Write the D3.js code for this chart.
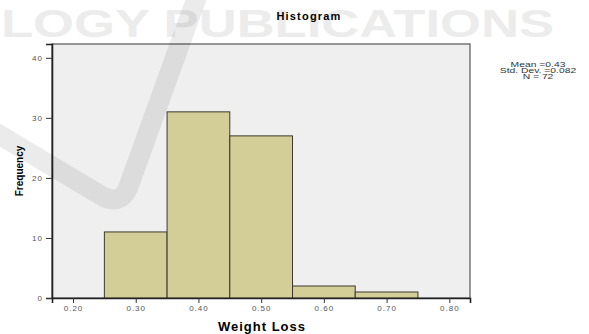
<!DOCTYPE html>
<html>
<head>
<meta charset="utf-8">
<script src="https://cdn.jsdelivr.net/npm/d3@7"></script>
<style>
  body { margin: 0; background: #fff; }
  text { font-family: "Liberation Sans", Arial, sans-serif; }
</style>
</head>
<body>
<svg id="chart"></svg>
<script>
// histogram data (bin start, count)
const binStarts = [0.25, 0.35, 0.45, 0.55, 0.65]
const binWidth = 0.1
const counts = [11, 31, 27, 2, 1]
const xTicks = [0.2, 0.3, 0.4, 0.5, 0.6, 0.7, 0.8]
const yTicks = [0, 10, 20, 30, 40]
const stats = ["Mean =0.43", "Std. Dev. =0.082", "N = 72"]

const width = 589, height = 334
const margin = { top: 44, right: 119, bottom: 36, left: 52 }

const svg = d3.select("#chart")
    .attr("width", width)
    .attr("height", height)
    .attr("viewBox", [0, 0, width, height])

// faint publisher watermark behind everything
svg.append("text")
    .attr("x", 1)
    .attr("y", 37)
    .attr("textLength", 553)
    .attr("lengthAdjust", "spacingAndGlyphs")
    .attr("fill", "#ececec")
    .attr("font-size", 38)
    .attr("font-weight", "bold")
    .text("LOGY PUBLICATIONS")

const x = d3.scaleLinear()
    .domain([0.1665, 0.833])
    .range([margin.left, width - margin.right])

const y = d3.scaleLinear()
    .domain([0, 42.3])
    .range([height - margin.bottom, margin.top])

// plot area
svg.append("rect")
    .attr("x", margin.left)
    .attr("y", margin.top)
    .attr("width", width - margin.right - margin.left)
    .attr("height", height - margin.bottom - margin.top)
    .attr("fill", "#efefef")
    .attr("stroke", "#555")
    .attr("stroke-width", 1.2)

svg.append("g")
    .attr("fill", "#d3ce97")
    .attr("stroke", "#3b3a2c")
    .attr("stroke-width", 1)
  .selectAll("rect")
  .data(binStarts)
  .join("rect")
    .attr("x", d => x(d))
    .attr("width", d => x(d + binWidth) - x(d))
    .attr("y", (d, i) => y(counts[i]))
    .attr("height", (d, i) => y(0) - y(counts[i]))

const yAxis = g => g
    .attr("transform", `translate(${margin.left},0)`)
    .call(d3.axisLeft(y).tickValues(yTicks).tickSize(6).tickPadding(3))
    .call(g => g.select(".domain").attr("stroke", "#222").attr("stroke-width", 1.6))
    .call(g => g.selectAll(".tick line").attr("stroke", "#333"))
    .call(g => g.selectAll(".tick text")
        .attr("fill", "#555")
        .attr("font-size", 8)
        .attr("letter-spacing", 1))

const xAxis = g => g
    .attr("transform", `translate(0,${height - margin.bottom})`)
    .call(d3.axisBottom(x).tickValues(xTicks).tickFormat(d3.format(".2f")).tickSize(5).tickPadding(2))
    .call(g => g.select(".domain").attr("stroke", "#222").attr("stroke-width", 1.6))
    .call(g => g.selectAll(".tick line").attr("stroke", "#333"))
    .call(g => g.selectAll(".tick text")
        .attr("fill", "#555")
        .attr("font-size", 8)
        .attr("letter-spacing", 1))

svg.append("g").call(yAxis)
svg.append("g").call(xAxis)

// titles
svg.append("text")
    .attr("x", 309)
    .attr("y", 20)
    .attr("text-anchor", "middle")
    .attr("font-size", 11)
    .attr("font-weight", "bold")
    .attr("letter-spacing", 1.2)
    .text("Histogram")

svg.append("text")
    .attr("x", 262)
    .attr("y", 331)
    .attr("text-anchor", "middle")
    .attr("font-size", 13)
    .attr("font-weight", "bold")
    .attr("letter-spacing", 1)
    .text("Weight Loss")

svg.append("text")
    .attr("transform", `translate(23,${(margin.top + height - margin.bottom) / 2}) rotate(-90)`)
    .attr("text-anchor", "middle")
    .attr("font-size", 10)
    .attr("font-weight", "bold")
    .text("Frequency")

// summary stats, squashed like the source export
svg.append("g")
    .attr("transform", "translate(538,0) scale(1.15,0.7)")
  .selectAll("text")
  .data(stats)
  .join("text")
    .attr("x", 0)
    .attr("y", (d, i) => (67 + i * 6) / 0.7)
    .attr("text-anchor", "middle")
    .attr("font-size", 9)
    .attr("fill", "#333")
    .text(d => d)

// faint check-mark watermark drawn over the plot
svg.append("path")
    .attr("d", "M198,-6 L128,188 Q120,206 102,196 L-12,128")
    .attr("fill", "none")
    .attr("stroke", "#000")
    .attr("stroke-opacity", 0.08)
    .attr("stroke-width", 20)
    .attr("stroke-linejoin", "round")
</script>
</body>
</html>
